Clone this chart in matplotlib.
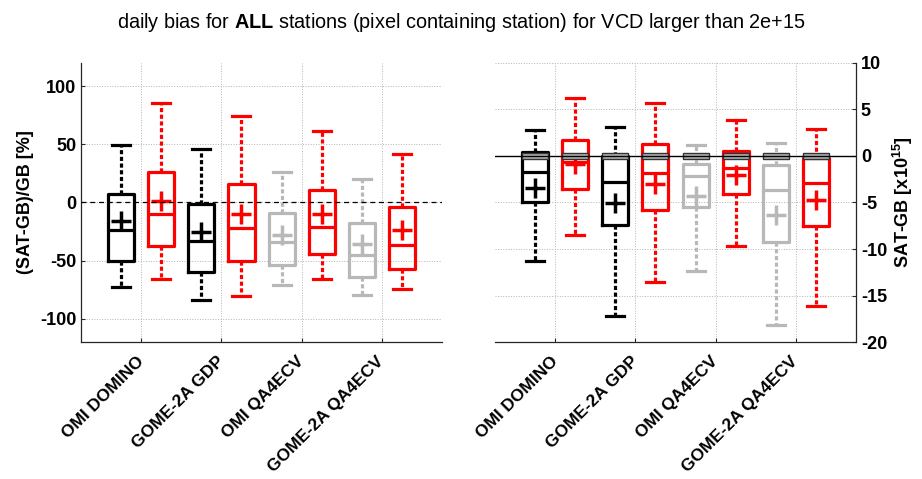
import numpy as np
import matplotlib
matplotlib.use("Agg")
import matplotlib.pyplot as plt

plt.rcParams['font.family'] = ['Liberation Sans', 'DejaVu Sans']
plt.rcParams['mathtext.fontset'] = 'custom'
plt.rcParams['mathtext.rm'] = 'Liberation Sans'
plt.rcParams['mathtext.bf'] = 'Liberation Sans:bold'
plt.rcParams['axes.unicode_minus'] = False

# products (tick labels sit between the two boxes of each pair)
products = ['OMI DOMINO', 'GOME-2A GDP', 'OMI QA4ECV', 'GOME-2A QA4ECV']
box_colors = ['black', 'red', 'black', 'red', '0.72', 'red', '0.72', 'red']

# relative bias (SAT-GB)/GB [%]
rel_whislo = [-72.5, -66.2, -84.0, -80.0, -71.3, -65.9, -79.7, -74.8]
rel_q1 = [-49.9, -37.2, -59.6, -50.7, -53.9, -44.1, -64.5, -57.3]
rel_med = [-23.8, -10.3, -33.5, -21.8, -34.4, -21.5, -45.3, -36.4]
rel_q3 = [7.7, 26.6, -1.1, 15.5, -8.9, 10.6, -18.0, -3.7]
rel_whishi = [49.3, 86.0, 45.6, 74.5, 26.4, 61.6, 20.0, 41.8]
rel_mean = [-16.0, 1.4, -25.2, -10.0, -28.0, -10.3, -36.1, -23.8]

# absolute bias SAT-GB [x1e15]
abs_whislo = [-11.3, -8.5, -17.2, -13.6, -12.4, -9.7, -18.2, -16.1]
abs_q1 = [-5.0, -3.5, -7.4, -5.8, -5.5, -4.1, -9.2, -7.5]
abs_med = [-1.7, -0.6, -2.8, -1.8, -2.2, -1.3, -3.7, -2.9]
abs_q3 = [0.47, 1.73, 0.0, 1.26, -0.9, 0.54, -1.0, -0.2]
abs_whishi = [2.84, 6.26, 3.1, 5.7, 1.2, 3.85, 1.4, 2.95]
abs_mean = [-3.4, -0.9, -5.1, -3.0, -4.3, -2.0, -6.3, -4.7]

# small grey boxes around zero in the absolute panel
zero_lo = [-0.3] * 8
zero_hi = [0.3] * 8

positions = np.arange(1, 9)
tick_pos = positions[::2] + 0.5

fig = plt.figure(figsize=(9.22, 4.79), dpi=100)
ax1 = fig.add_axes([0.0879, 0.286, 0.3915, 0.5825])
ax2 = fig.add_axes([0.5369, 0.286, 0.3915, 0.5825])

LW = 2.3
dots = (0, (1.3, 0.8))
FS = 13


def draw_boxes(ax, lo, q1, med, q3, hi, mean):
    for i, pos in enumerate(positions):
        c = box_colors[i]
        st = [dict(whislo=lo[i], q1=q1[i], med=med[i], q3=q3[i],
                   whishi=hi[i], mean=mean[i], fliers=[])]
        ax.bxp(st, positions=[pos], widths=0.65, capwidths=0.45,
               showmeans=True, showfliers=False, manage_ticks=False,
               boxprops=dict(color=c, lw=LW),
               medianprops=dict(color=c, lw=LW),
               whiskerprops=dict(color=c, lw=LW, linestyle=dots,
                                 dash_capstyle='butt'),
               capprops=dict(color=c, lw=LW),
               meanprops=dict(marker='+', markersize=14, mew=2.5,
                              markeredgecolor=c, markerfacecolor=c))


def style_axes(ax):
    ax.set_xlim(0, 9)
    ax.set_xticks(tick_pos)
    ax.set_xticklabels(products, rotation=45, ha='right', va='center',
                       rotation_mode='anchor', fontsize=12.5,
                       fontweight='bold')
    ax.grid(True, linestyle=':', color='0.7', lw=0.7)
    ax.set_axisbelow(True)
    ax.tick_params(direction='in', length=3, width=0.8, colors='0.15',
                   labelcolor='black', labelsize=FS)
    ax.tick_params(axis='x', pad=12, labelsize=12.5)
    for lab in ax.get_yticklabels():
        lab.set_fontweight('bold')
    for s in ax.spines.values():
        s.set_color('0.15')
        s.set_linewidth(0.9)


# left panel: relative bias
draw_boxes(ax1, rel_whislo, rel_q1, rel_med, rel_q3, rel_whishi, rel_mean)
ax1.axhline(0, color='black', lw=0.9, linestyle=(0, (4, 3)), zorder=5)
ax1.set_ylim(-120, 120)
ax1.set_yticks([-100, -50, 0, 50, 100])
style_axes(ax1)
ax1.spines['top'].set_visible(False)
ax1.spines['right'].set_visible(False)
ax1.set_ylabel('(SAT-GB)/GB [%]', fontsize=FS, fontweight='bold',
               labelpad=4)

# right panel: absolute bias
draw_boxes(ax2, abs_whislo, abs_q1, abs_med, abs_q3, abs_whishi, abs_mean)
ax2.bar(positions, np.array(zero_hi) - np.array(zero_lo), bottom=zero_lo,
        width=0.65, color='0.7', edgecolor='0.2', lw=1.0, zorder=4)
ax2.axhline(0, color='black', lw=1.0, zorder=6)
ax2.set_ylim(-20, 10)
ax2.set_yticks([-20, -15, -10, -5, 0, 5, 10])
ax2.yaxis.tick_right()
ax2.yaxis.set_label_position('right')
style_axes(ax2)
ax2.spines['top'].set_visible(False)
ax2.spines['left'].set_visible(False)
ax2.set_ylabel(r'SAT-GB [x10$^{\mathbf{15}}$]', fontsize=FS,
               fontweight='bold', labelpad=3)

fig.text(0.5, 0.952,
         r'daily bias for $\mathbf{ALL}$ stations (pixel containing station)'
         r' for VCD larger than 2e+15',
         ha='center', va='center', fontsize=14.3)

fig.savefig('out.png', dpi=100)
